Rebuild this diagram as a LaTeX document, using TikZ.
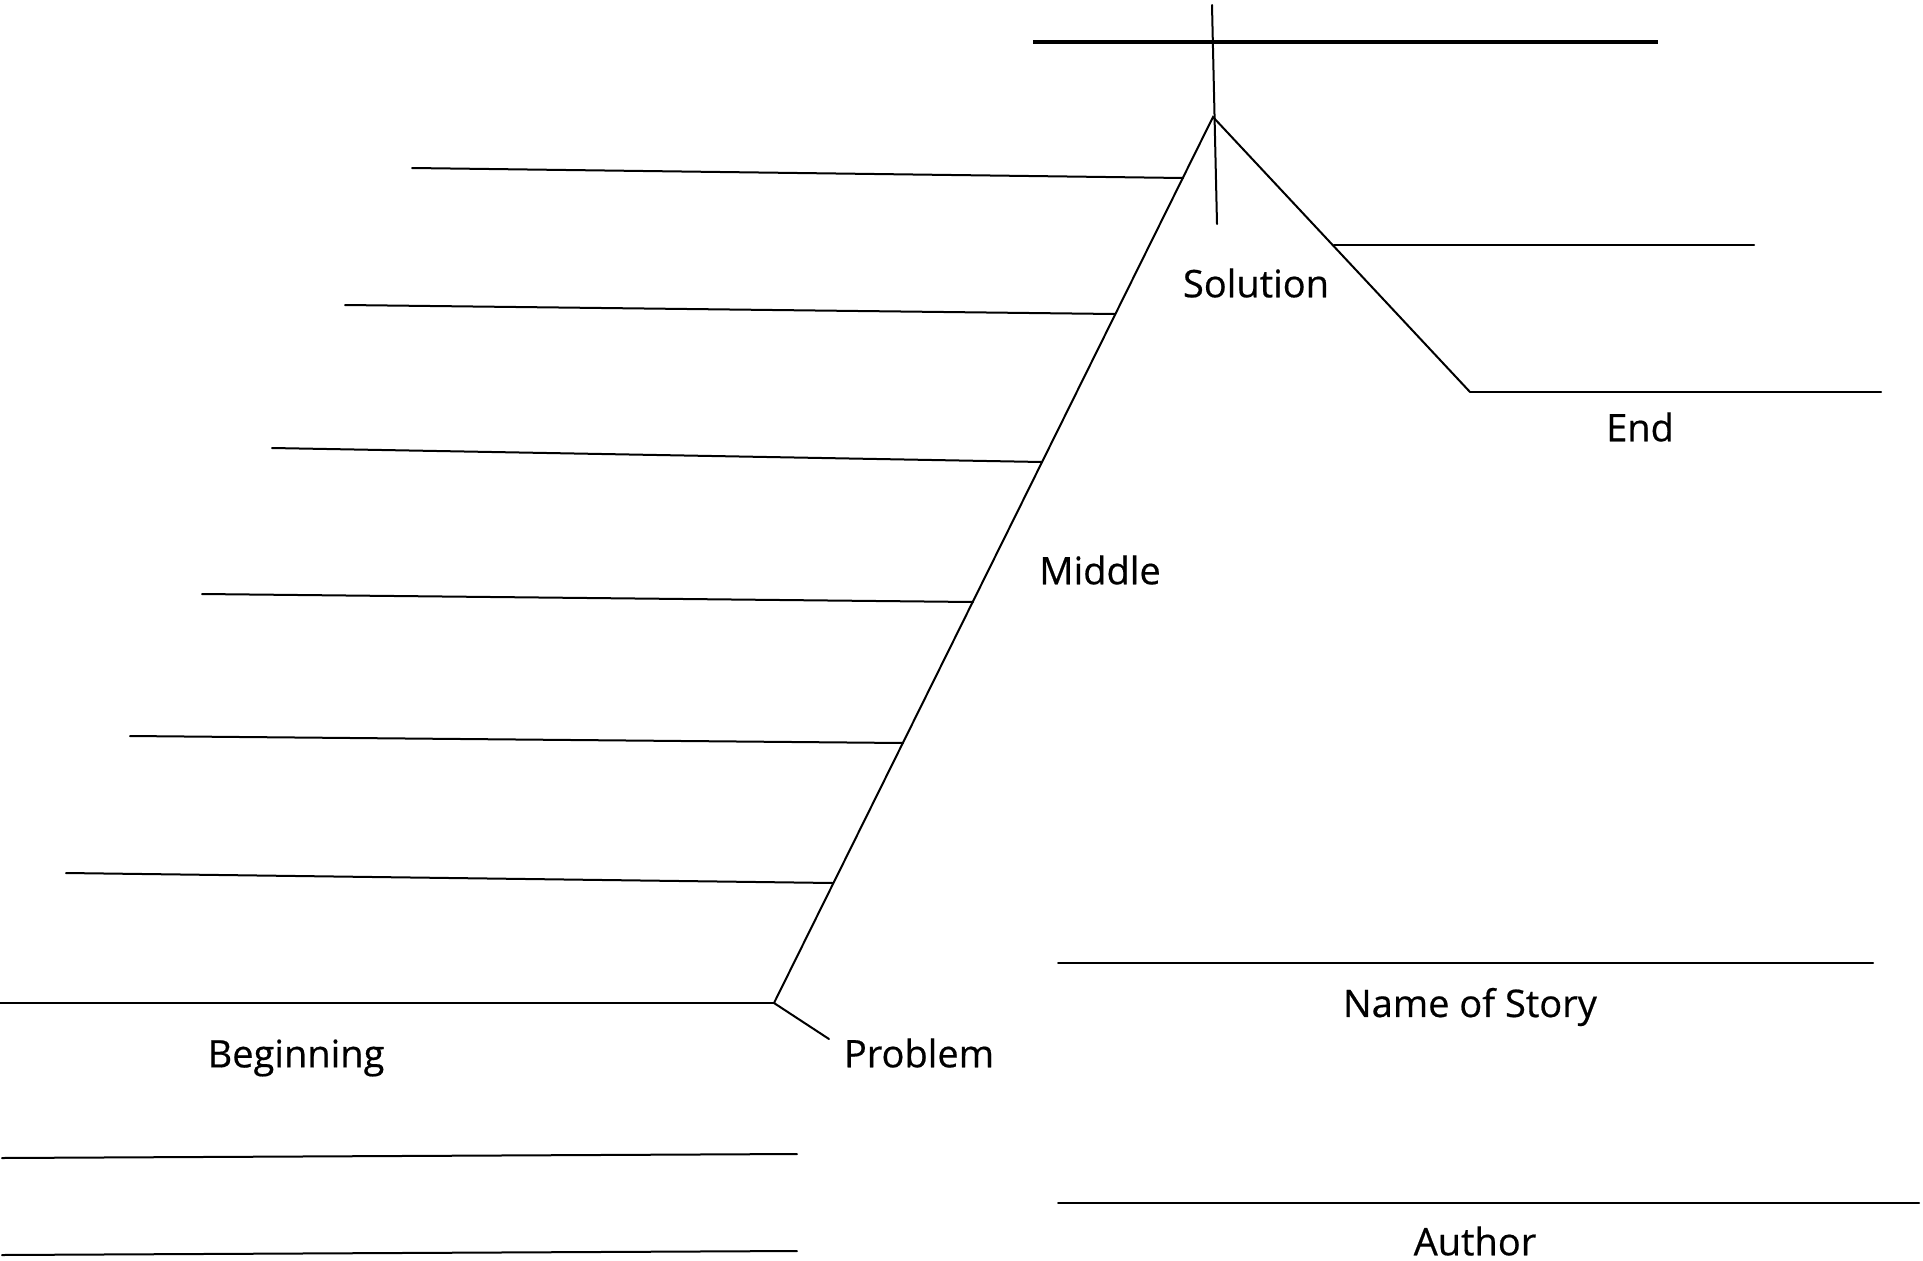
\documentclass[tikz,border=0pt]{standalone}
\usepackage{fontspec}
\setmainfont{Open Sans}
\newfontfamily\lblfont{Open Sans}[FakeBold=0.5]
\begin{document}
\begin{tikzpicture}[x=1pt,y=-1pt,
  ln/.style={line width=2pt,line cap=round},
  thick line/.style={line width=4.5pt},
  lbl/.style={font=\lblfont\fontsize{38}{44}\selectfont,inner sep=0pt}]
\useasboundingbox[fill=white] (0,0) rectangle (1923,1261);
% key points
\coordinate (prob) at (774,1003);
\coordinate (apex) at (1213,117);
\coordinate (endc) at (1470,392);
\coordinate (vtop) at (1212,5);
\coordinate (vbot) at (1217,224);
\coordinate (ptick) at (829,1039);
% mountain
\draw[ln] (prob) -- (apex) -- (endc);
\draw[ln] (vtop) -- (vbot);
\draw[ln] (prob) -- (ptick);
% top thick line
\coordinate (t1) at (1033,42);
\coordinate (t2) at (1658,42);
\draw[thick line] (t1) -- (t2);
% left writing lines ending on the slope
\foreach \n/\xa/\ya/\xb/\yb in {1/412/168/1183/178, 2/345/305/1115/314, 3/272/448/1042/462, 4/202/594/973/602, 5/130/736/903/743, 6/66/873/833/883}{
  \coordinate (l\n a) at (\xa,\ya);
  \coordinate (l\n b) at (\xb,\yb);
  \draw[ln] (l\n a) -- (l\n b);
}
% beginning baseline
\coordinate (b0) at (0,1003);
\draw[ln] (b0) -- (prob);
% right lines
\coordinate (r1a) at (1334,245);
\coordinate (r1b) at (1754,245);
\draw[ln] (r1a) -- (r1b);
\coordinate (e2) at (1881,392);
\draw[ln] (endc) -- (e2);
% name / author lines
\coordinate (n1) at (1058,963);
\coordinate (n2) at (1873,963);
\draw[ln] (n1) -- (n2);
\coordinate (a1) at (1058,1203);
\coordinate (a2) at (1919,1203);
\draw[ln] (a1) -- (a2);
% bottom left lines
\coordinate (bl1a) at (2,1158);
\coordinate (bl1b) at (797,1154);
\draw[ln] (bl1a) -- (bl1b);
\coordinate (bl2a) at (2,1255);
\coordinate (bl2b) at (797,1251);
\draw[ln] (bl2a) -- (bl2b);
% labels
\node[lbl] (sol) at (1256,283) {Solution};
\node[lbl] (end) at (1640,427) {End};
\node[lbl] (mid) at (1100,570) {Middle};
\node[lbl] (beg) at (296,1058) {Beginning};
\node[lbl] (pro) at (919,1053) {Problem};
\node[lbl] (nos) at (1470,1007) {Name of Story};
\node[lbl] (aut) at (1475,1241) {Author};
\end{tikzpicture}
\end{document}
